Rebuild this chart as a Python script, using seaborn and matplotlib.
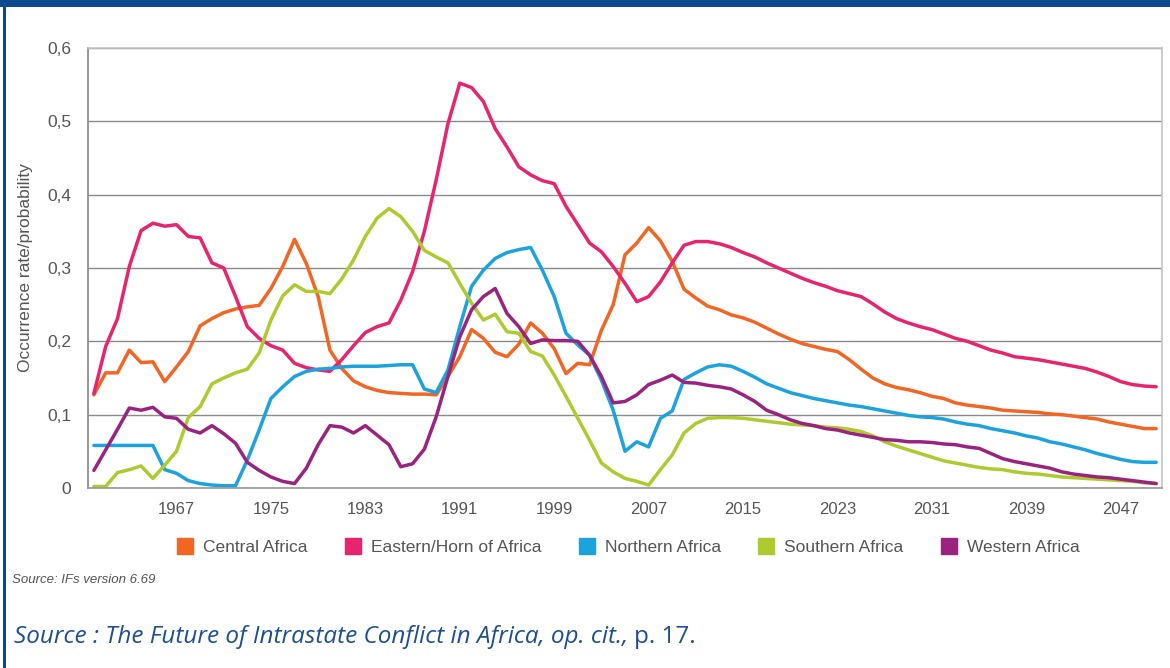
import pandas as pd
import numpy as np
import seaborn as sns
import matplotlib.pyplot as plt
from matplotlib.lines import Line2D

# Data (one value per year, 1960-2050)
years = list(range(1960, 2051))

central = [0.127, 0.157, 0.157, 0.188, 0.171, 0.172, 0.145, 0.165, 0.186, 0.221,
           0.231, 0.239, 0.244, 0.247, 0.249, 0.272, 0.302, 0.339, 0.306, 0.261,
           0.188, 0.163, 0.146, 0.138, 0.133, 0.130, 0.129, 0.128, 0.128, 0.127,
           0.152, 0.179, 0.216, 0.204, 0.185, 0.179, 0.196, 0.225, 0.211, 0.190,
           0.156, 0.170, 0.168, 0.215, 0.250, 0.318, 0.334, 0.355, 0.337, 0.309,
           0.271, 0.259, 0.248, 0.243, 0.236, 0.232, 0.226, 0.218, 0.210, 0.203,
           0.197, 0.193, 0.189, 0.186, 0.175, 0.162, 0.150, 0.142, 0.137, 0.134,
           0.130, 0.125, 0.122, 0.116, 0.113, 0.111, 0.109, 0.106, 0.105, 0.104,
           0.103, 0.101, 0.100, 0.098, 0.096, 0.094, 0.090, 0.087, 0.084, 0.081,
           0.081]

eastern = [0.129, 0.193, 0.231, 0.302, 0.351, 0.361, 0.357, 0.359, 0.343, 0.341,
           0.307, 0.300, 0.261, 0.220, 0.204, 0.194, 0.188, 0.170, 0.164, 0.161,
           0.159, 0.175, 0.194, 0.212, 0.220, 0.225, 0.256, 0.295, 0.350, 0.420,
           0.497, 0.552, 0.546, 0.527, 0.490, 0.465, 0.438, 0.427, 0.419, 0.415,
           0.384, 0.359, 0.334, 0.322, 0.302, 0.279, 0.254, 0.261, 0.281, 0.307,
           0.331, 0.336, 0.336, 0.333, 0.328, 0.321, 0.315, 0.307, 0.300, 0.293,
           0.286, 0.280, 0.275, 0.269, 0.265, 0.261, 0.251, 0.240, 0.231, 0.225,
           0.220, 0.216, 0.210, 0.204, 0.200, 0.194, 0.188, 0.184, 0.179, 0.177,
           0.175, 0.172, 0.169, 0.166, 0.163, 0.158, 0.152, 0.145, 0.141, 0.139,
           0.138]

northern = [0.058, 0.058, 0.058, 0.058, 0.058, 0.058, 0.025, 0.020, 0.010, 0.006,
            0.004, 0.003, 0.003, 0.038, 0.079, 0.122, 0.138, 0.152, 0.159, 0.162,
            0.163, 0.165, 0.166, 0.166, 0.166, 0.167, 0.168, 0.168, 0.135, 0.130,
            0.161, 0.220, 0.275, 0.297, 0.313, 0.321, 0.325, 0.328, 0.297, 0.261,
            0.211, 0.195, 0.181, 0.147, 0.106, 0.050, 0.063, 0.056, 0.095, 0.105,
            0.148, 0.157, 0.165, 0.168, 0.166, 0.159, 0.151, 0.142, 0.136, 0.130,
            0.126, 0.122, 0.119, 0.116, 0.113, 0.111, 0.108, 0.105, 0.102, 0.099,
            0.097, 0.096, 0.094, 0.090, 0.087, 0.085, 0.081, 0.078, 0.075, 0.071,
            0.068, 0.063, 0.060, 0.056, 0.052, 0.047, 0.043, 0.039, 0.036, 0.035,
            0.035]

southern = [0.002, 0.002, 0.021, 0.025, 0.030, 0.013, 0.031, 0.050, 0.096, 0.111,
            0.142, 0.150, 0.157, 0.162, 0.184, 0.229, 0.262, 0.277, 0.268, 0.268,
            0.265, 0.285, 0.311, 0.343, 0.368, 0.381, 0.370, 0.350, 0.324, 0.315,
            0.307, 0.279, 0.252, 0.229, 0.237, 0.213, 0.211, 0.186, 0.180, 0.154,
            0.125, 0.095, 0.065, 0.034, 0.022, 0.013, 0.009, 0.004, 0.025, 0.045,
            0.075, 0.088, 0.095, 0.096, 0.096, 0.095, 0.093, 0.091, 0.089, 0.087,
            0.086, 0.085, 0.083, 0.082, 0.080, 0.077, 0.071, 0.063, 0.057, 0.052,
            0.047, 0.042, 0.037, 0.034, 0.031, 0.028, 0.026, 0.025, 0.022, 0.020,
            0.019, 0.017, 0.015, 0.014, 0.013, 0.012, 0.011, 0.010, 0.009, 0.007,
            0.006]

western = [0.024, 0.052, 0.080, 0.109, 0.106, 0.110, 0.097, 0.095, 0.080, 0.075,
           0.085, 0.074, 0.061, 0.035, 0.024, 0.015, 0.009, 0.006, 0.027, 0.059,
           0.085, 0.083, 0.075, 0.085, 0.072, 0.059, 0.029, 0.033, 0.053, 0.097,
           0.152, 0.206, 0.243, 0.261, 0.272, 0.238, 0.220, 0.197, 0.202, 0.201,
           0.201, 0.200, 0.181, 0.152, 0.116, 0.118, 0.127, 0.141, 0.147, 0.154,
           0.144, 0.143, 0.140, 0.138, 0.135, 0.127, 0.118, 0.106, 0.100, 0.093,
           0.088, 0.085, 0.081, 0.079, 0.075, 0.072, 0.069, 0.066, 0.065, 0.063,
           0.063, 0.062, 0.060, 0.059, 0.056, 0.054, 0.047, 0.040, 0.036, 0.033,
           0.030, 0.027, 0.022, 0.019, 0.017, 0.015, 0.014, 0.012, 0.010, 0.008,
           0.006]

regions = ["Central Africa", "Eastern/Horn of Africa", "Northern Africa",
           "Southern Africa", "Western Africa"]
colors = ["#F26522", "#E8246F", "#1CA3DE", "#AFCA2F", "#9A2380"]
tick_years = list(range(1967, 2048, 8))
y_ticks = [0, 0.1, 0.2, 0.3, 0.4, 0.5, 0.6]
y_labels = ["0", "0,1", "0,2", "0,3", "0,4", "0,5", "0,6"]

df = pd.DataFrame({"year": years * 5,
                   "value": central + eastern + northern + southern + western,
                   "region": sum([[r] * len(years) for r in regions], [])})

# Plotting
sns.set_theme(style="white")
plt.rcParams['font.family'] = ['Liberation Sans', 'DejaVu Sans']
fig = plt.figure(figsize=(11.7, 6.68), dpi=100)
ax = fig.add_axes([0.0752, 0.2695, 0.918, 0.6587])

sns.lineplot(data=df, x="year", y="value", hue="region", hue_order=regions,
             palette=colors, linewidth=2.5, legend=False, ax=ax)

ax.set_xlim(1959.5, 2050.5)
ax.set_ylim(0, 0.6)
ax.set_xticks(tick_years)
ax.set_xticklabels([str(y) for y in tick_years], fontsize=12, color="#555555")
ax.set_yticks(y_ticks)
ax.set_yticklabels(y_labels, fontsize=12.5, color="#555555")
ax.tick_params(axis="x", direction="in", length=7, width=1, color="#666666", pad=10)
ax.tick_params(axis="y", direction="out", length=4, width=1, color="#888888", pad=8)
ax.yaxis.grid(True, color="#8a8a8a", linewidth=1)
ax.set_axisbelow(True)
for side in ["top", "right"]:
    ax.spines[side].set_color("#c4c4c4")
    ax.spines[side].set_linewidth(1.2)
ax.spines["left"].set_color("#8a8a8a")
ax.spines["bottom"].set_color("#9a9a9a")
ax.set_xlabel("")
ax.set_ylabel("Occurrence rate/probability", fontsize=12.5, color="#555555", labelpad=10)

handles = [Line2D([0], [0], marker="s", linestyle="", markersize=11,
                  markerfacecolor=c, markeredgecolor=c) for c in colors]
fig.legend(handles, regions, loc="center", bbox_to_anchor=(0.533, 0.18), ncol=5,
           frameon=False, fontsize=12.5, handletextpad=0.05, columnspacing=1.6,
           labelcolor="#555555")

fig.text(0.010, 0.132, "Source: IFs version 6.69", fontsize=9.5, style="italic",
         color="#555555", va="center")
src = fig.text(0.012, 0.047, "Source : The Future of Intrastate Conflict in Africa, op. cit., ",
               fontsize=17.5, style="italic", color="#1D4F91",
               family=['Open Sans', 'DejaVu Sans'], va="center")
renderer = fig.canvas.get_renderer()
bb = src.get_window_extent(renderer=renderer).transformed(fig.transFigure.inverted())
fig.text(bb.x1, 0.047, "p. 17.", fontsize=17.5, color="#1D4F91",
         family=['Open Sans', 'DejaVu Sans'], va="center")

# Blue frame around the box
fig.add_artist(plt.Rectangle((0, 0.989), 1, 0.011, transform=fig.transFigure,
                             color="#0B4A8C", lw=0))
fig.add_artist(plt.Rectangle((0.0026, 0), 0.0022, 1, transform=fig.transFigure,
                             color="#0B4A8C", lw=0))

fig.savefig("out.png", dpi=100)
